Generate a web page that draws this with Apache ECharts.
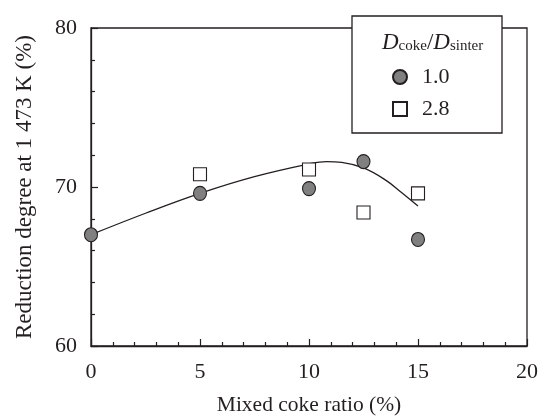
<!DOCTYPE html>
<html><head><meta charset="utf-8">
<script src="https://cdn.jsdelivr.net/npm/echarts@6/dist/echarts.min.js"></script>
<style>html,body{margin:0;padding:0;background:#fff}#c{width:541px;height:419px}</style>
</head><body><div id="c"></div>
<script>
const xTicks = [0, 5, 10, 15, 20];
const yTicks = [60, 70, 80];
const ratio10 = [[0, 67.0], [5, 69.6], [10, 69.9], [12.5, 71.6], [15, 66.7]];
const ratio28 = [[5, 70.8], [10, 71.1], [12.5, 68.4], [15, 69.6]];
const fitCurve = [[0, 67.0], [2.5, 68.35], [5, 69.6], [7.5, 70.65], [10, 71.45], [10.8, 71.6], [11.5, 71.55], [12.5, 71.2], [13.5, 70.45], [14.2, 69.7], [15, 68.8]];
const seriesNames = ['1.0', '2.8'];

const FONT = 'Liberation Serif';
const INK = '#231f20';
const chart = echarts.init(document.getElementById('c'), null, {renderer: 'canvas'});
chart.setOption({
  animation: false,
  backgroundColor: '#fff',
  textStyle: {fontFamily: FONT},
  grid: {left: 91, right: 14, top: 28, bottom: 73, containLabel: false, outerBoundsMode: 'none', show: true, borderColor: INK, borderWidth: 1.3, backgroundColor: 'transparent'},
  xAxis: {
    type: 'value', min: xTicks[0], max: xTicks[xTicks.length - 1], interval: 5,
    name: 'Mixed coke ratio (%)', nameLocation: 'middle', nameGap: 48,
    nameTextStyle: {fontFamily: FONT, fontSize: 21.5, color: INK},
    axisLine: {show: true, lineStyle: {color: INK, width: 1.3}},
    axisTick: {show: true, inside: true, length: 7, lineStyle: {color: INK, width: 1.2}},
    minorTick: {show: true, splitNumber: 5, length: 4, lineStyle: {color: INK, width: 1.2}},
    axisLabel: {fontFamily: FONT, fontSize: 22, color: INK, margin: 15},
    splitLine: {show: false}
  },
  yAxis: {
    type: 'value', min: yTicks[0], max: yTicks[yTicks.length - 1], interval: 10,
    name: 'Reduction degree at 1 473 K (%)', nameLocation: 'middle', nameGap: 55,
    nameTextStyle: {fontFamily: FONT, fontSize: 23, color: INK},
    axisLine: {show: true, lineStyle: {color: INK, width: 1.3}},
    axisTick: {show: true, inside: true, length: 7, lineStyle: {color: INK, width: 1.2}},
    minorTick: {show: true, splitNumber: 5, length: 4, lineStyle: {color: INK, width: 1.2}},
    axisLabel: {fontFamily: FONT, fontSize: 22, color: INK, margin: 14},
    splitLine: {show: false}
  },
  legend: {
    data: [
      {name: seriesNames[0], icon: 'circle'},
      {name: seriesNames[1], icon: 'rect'}
    ],
    orient: 'vertical', left: 387, top: 61, itemGap: 10,
    itemWidth: 14, itemHeight: 14, z: 20,
    textStyle: {fontFamily: FONT, fontSize: 22, color: INK, padding: [0, 0, 0, 10]}
  },
  graphic: [
    {type: 'rect', shape: {x: 352, y: 16, width: 150, height: 117}, style: {fill: '#fff', stroke: INK, lineWidth: 1.3}, z: 10},
    {type: 'text', x: 382, y: 27, z: 11, style: {
      text: '{i|D}{s|coke}{n|/}{i|D}{s|sinter}',
      rich: {
        i: {fontFamily: FONT, fontStyle: 'italic', fontSize: 23, fill: INK, lineHeight: 27, verticalAlign: 'bottom'},
        n: {fontFamily: FONT, fontSize: 23, fill: INK, lineHeight: 27, verticalAlign: 'bottom'},
        s: {fontFamily: FONT, fontSize: 15, fill: INK, lineHeight: 15, verticalAlign: 'bottom'}
      }
    }}
  ],
  series: [
    {
      name: 'fit', type: 'line', data: fitCurve, smooth: 0.4, showSymbol: false, symbol: 'none',
      lineStyle: {color: INK, width: 1.3}, z: 2, silent: true
    },
    {
      name: seriesNames[0], type: 'scatter', data: ratio10, symbol: 'circle', symbolSize: [13, 14],
      itemStyle: {color: '#808080', borderColor: INK, borderWidth: 1.1, opacity: 1}, z: 3
    },
    {
      name: seriesNames[1], type: 'scatter', data: ratio28, symbol: 'rect', symbolSize: 13,
      itemStyle: {color: '#fff', borderColor: INK, borderWidth: 1.1, opacity: 1}, z: 3
    }
  ]
});
</script></body></html>
